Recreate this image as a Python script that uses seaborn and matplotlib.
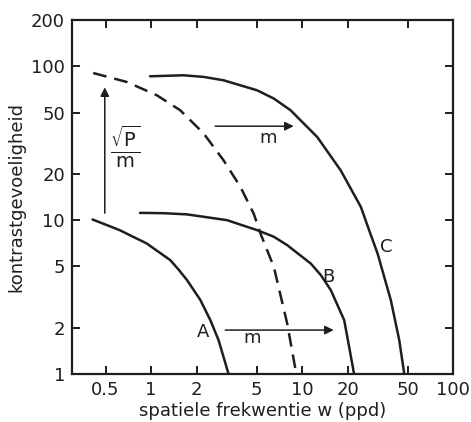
import matplotlib
matplotlib.use("Agg")
import matplotlib.pyplot as plt
import seaborn as sns
import pandas as pd

# curves (w in ppd, contrast sensitivity)
a_w = [0.41, 0.62, 0.76, 0.935, 1.34, 1.52, 1.73, 2.12, 2.47, 2.80, 3.02, 3.26]
a_s = [10.1, 8.61, 7.8, 7.06, 5.5, 4.78, 4.08, 3.03, 2.24, 1.66, 1.29, 1.0]
b_w = [0.845, 1.21, 1.73, 3.18, 5.04, 6.5, 7.97, 11.4, 13.3, 15.5, 19.0, 20.5, 22.1]
b_s = [11.15, 11.1, 10.9, 10.0, 8.61, 7.8, 6.88, 5.23, 4.4, 3.51, 2.24, 1.5, 1.0]
c_w = [0.985, 1.64, 2.23, 3.02, 5.04, 6.5, 8.39, 12.6, 18.0, 24.5, 27.8, 31.6, 38.7, 44.0, 47.5]
c_s = [86.1, 87.4, 85.3, 81.1, 69.8, 61.7, 51.8, 34.7, 21.1, 12.2, 8.6, 6.08, 3.02, 1.66, 1.0]
d_w = [0.414, 0.69, 1.09, 1.56, 2.23, 3.02, 3.90, 4.78, 5.3, 6.5, 7.97, 9.06]
d_s = [90.4, 79.1, 64.9, 51.8, 36.6, 24.5, 16.5, 11.05, 8.2, 4.97, 2.13, 1.06]

x_ticks = [0.5, 1, 2, 5, 10, 20, 50, 100]
x_labels = ["0.5", "1", "2", "5", "10", "20", "50", "100"]
y_ticks = [1, 2, 5, 10, 20, 50, 100, 200]
y_labels = ["1", "2", "5", "10", "20", "50", "100", "200"]

ink = "#1e1e1e"

sns.set_style("ticks")
plt.rcParams['font.family'] = ['DejaVu Sans']
plt.rcParams['mathtext.fontset'] = 'dejavusans'

fig = plt.figure(figsize=(4.71, 4.22), dpi=100)
ax = fig.add_axes([0.153, 0.1137, 0.809, 0.839])

solid = pd.concat([
    pd.DataFrame({"w": a_w, "s": a_s, "curve": "A"}),
    pd.DataFrame({"w": b_w, "s": b_s, "curve": "B"}),
    pd.DataFrame({"w": c_w, "s": c_s, "curve": "C"}),
])
dashed = pd.DataFrame({"w": d_w, "s": d_s})

sns.lineplot(data=solid, x="w", y="s", units="curve", estimator=None, sort=False,
             color=ink, lw=1.8, ax=ax)
sns.lineplot(data=dashed, x="w", y="s", estimator=None, sort=False,
             color=ink, lw=1.8, ax=ax, linestyle=(0, (5.5, 3.2)))
for ln in ax.lines:
    ln.set_solid_joinstyle("round")
    ln.set_dash_joinstyle("round")

ax.set_xscale("log")
ax.set_yscale("log")
ax.set_xlim(0.3, 100)
ax.set_ylim(1, 200)
ax.set_xticks(x_ticks)
ax.set_xticklabels(x_labels)
ax.set_yticks(y_ticks)
ax.set_yticklabels(y_labels)
ax.minorticks_off()
ax.tick_params(direction="in", length=6, width=1.4, top=True, right=True,
               labelsize=13, colors=ink, pad=5)
for sp in ax.spines.values():
    sp.set_linewidth(1.6)
    sp.set_color(ink)

ax.set_xlabel("spatiele frekwentie w (ppd)", fontsize=13, color=ink, labelpad=2)
ax.set_ylabel("kontrastgevoeligheid", fontsize=13, color=ink, labelpad=4)

arrow = dict(arrowstyle="-|>", lw=1.1, color=ink, mutation_scale=13, shrinkA=0, shrinkB=0)
ax.annotate("", xy=(0.494, 73), xytext=(0.494, 11.1), arrowprops=arrow)
ax.annotate("", xy=(8.8, 40.8), xytext=(2.66, 40.8), arrowprops=arrow)
ax.annotate("", xy=(16.2, 1.93), xytext=(3.1, 1.93), arrowprops=arrow)

ax.text(0.67, 29.8, r"$\frac{\sqrt{\mathrm{P}}}{\mathrm{m}}$", fontsize=20,
        ha="center", va="center", color=ink)
ax.text(6.0, 34, "m", fontsize=13, ha="center", va="center", color=ink)
ax.text(4.7, 1.71, "m", fontsize=13, ha="center", va="center", color=ink)
ax.text(2.22, 1.87, "A", fontsize=13, ha="center", va="center", color=ink)
ax.text(15.0, 4.3, "B", fontsize=13, ha="center", va="center", color=ink)
ax.text(35.9, 6.7, "C", fontsize=13, ha="center", va="center", color=ink)

fig.savefig("out.png", dpi=100)
